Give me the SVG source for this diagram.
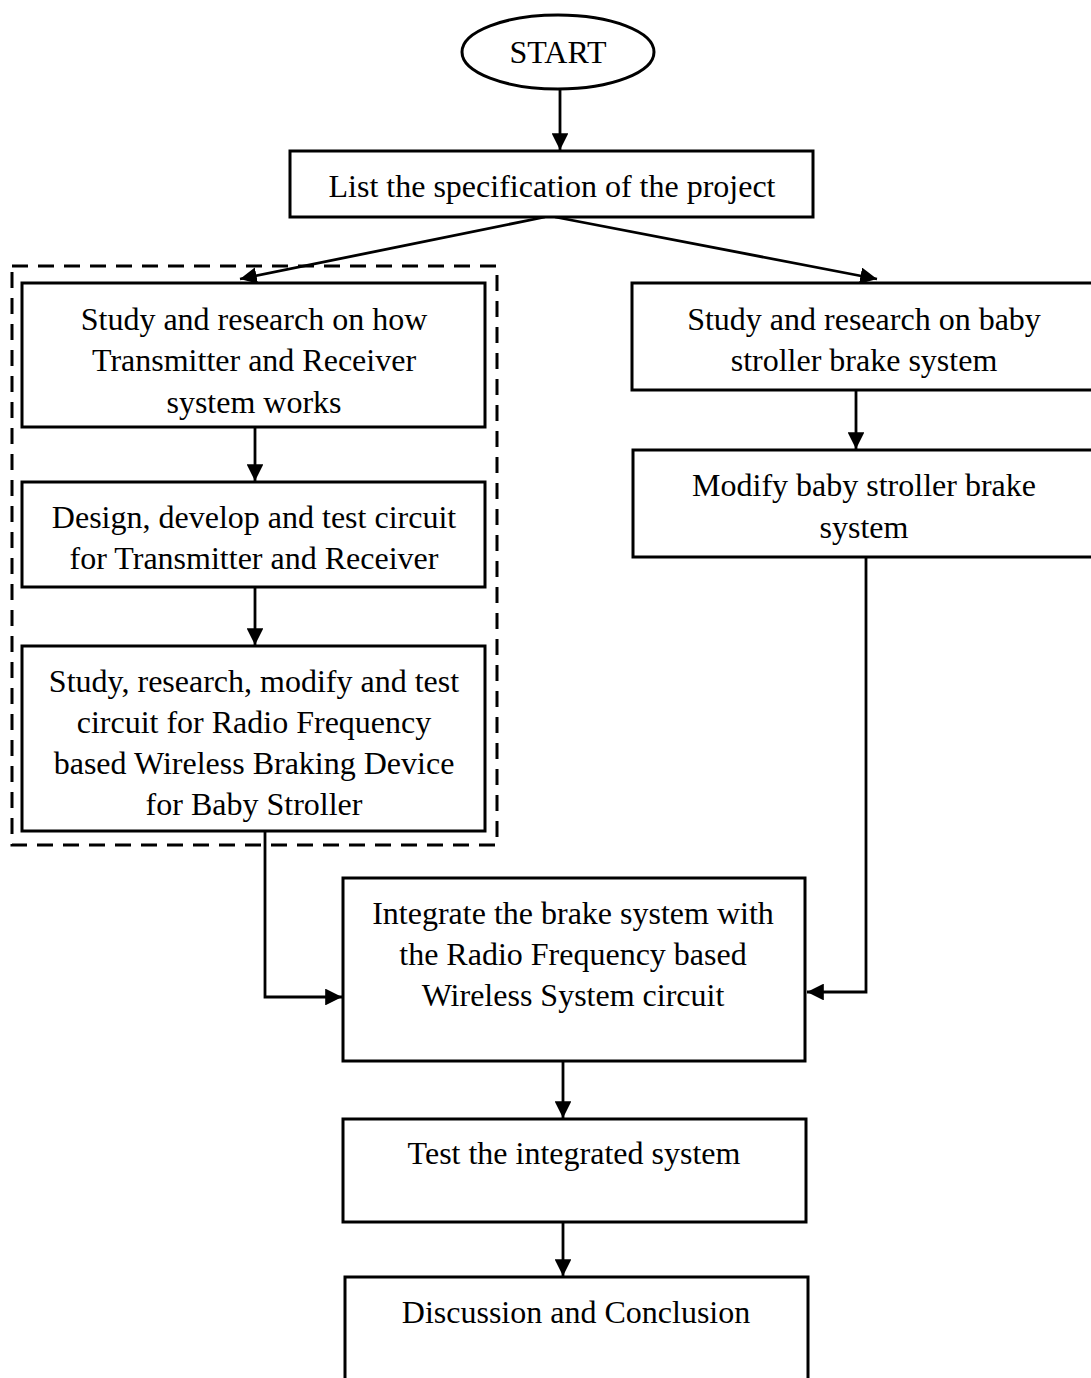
<svg xmlns="http://www.w3.org/2000/svg" width="1091" height="1378" viewBox="0 0 1091 1378">
<style>
.box{fill:#fff;stroke:#000;stroke-width:3}
.t{font-family:"Liberation Serif","Times New Roman",serif;font-size:32px;fill:#000;text-anchor:middle}
.c{fill:none;stroke:#000;stroke-width:2.8}
.dash{fill:none;stroke:#000;stroke-width:3;stroke-dasharray:16,10}
</style>
<defs>
<marker id="ah" viewBox="0 0 10 10" refX="10" refY="5" markerWidth="6" markerHeight="6" markerUnits="strokeWidth" orient="auto">
<path d="M0,0 L10,5 L0,10 z" fill="#000"/>
</marker>
</defs>
<rect width="1091" height="1378" fill="#fff"/>
<g id="group-dashed"><rect class="dash" x="12" y="266" width="485" height="579"/></g>
<g id="connectors">
<line class="c" x1="560" y1="90" x2="560" y2="150" marker-end="url(#ah)"/>
<line class="c" x1="545" y1="217" x2="240" y2="279" marker-end="url(#ah)"/>
<line class="c" x1="555" y1="217" x2="877" y2="279" marker-end="url(#ah)"/>
<line class="c" x1="255" y1="427" x2="255" y2="481" marker-end="url(#ah)"/>
<line class="c" x1="255" y1="587" x2="255" y2="645" marker-end="url(#ah)"/>
<polyline class="c" points="265,831 265,997 342,997" marker-end="url(#ah)"/>
<line class="c" x1="856" y1="390" x2="856" y2="449" marker-end="url(#ah)"/>
<polyline class="c" points="866,557 866,992 807,992" marker-end="url(#ah)"/>
<line class="c" x1="563" y1="1061" x2="563" y2="1118" marker-end="url(#ah)"/>
<line class="c" x1="563" y1="1222" x2="563" y2="1276" marker-end="url(#ah)"/>
</g>
<g id="start"><ellipse class="box" cx="558" cy="52" rx="96" ry="37"/><text class="t" x="558" y="63">START</text></g>
<g id="list"><rect class="box" x="290" y="151" width="523" height="66"/><text class="t" x="552" y="197">List the specification of the project</text></g>
<g id="study-tx"><rect class="box" x="22" y="283" width="463" height="144"/>
<text class="t" x="254" y="330">Study and research on how</text>
<text class="t" x="254" y="371">Transmitter and Receiver</text>
<text class="t" x="254" y="413">system works</text></g>
<g id="design"><rect class="box" x="22" y="482" width="463" height="105"/>
<text class="t" x="254" y="528">Design, develop and test circuit</text>
<text class="t" x="254" y="569">for Transmitter and Receiver</text></g>
<g id="study-rf"><rect class="box" x="22" y="646" width="463" height="185"/>
<text class="t" x="254" y="692">Study, research, modify and test</text>
<text class="t" x="254" y="733">circuit for Radio Frequency</text>
<text class="t" x="254" y="774">based Wireless Braking Device</text>
<text class="t" x="254" y="815">for Baby Stroller</text></g>
<g id="study-brake"><rect class="box" x="632" y="283" width="462" height="107"/>
<text class="t" x="864" y="330">Study and research on baby</text>
<text class="t" x="864" y="371">stroller brake system</text></g>
<g id="modify"><rect class="box" x="633" y="450" width="461" height="107"/>
<text class="t" x="864" y="496">Modify baby stroller brake</text>
<text class="t" x="864" y="538">system</text></g>
<g id="integrate"><rect class="box" x="343" y="878" width="462" height="183"/>
<text class="t" x="573" y="924">Integrate the brake system with</text>
<text class="t" x="573" y="965">the Radio Frequency based</text>
<text class="t" x="573" y="1006">Wireless System circuit</text></g>
<g id="test"><rect class="box" x="343" y="1119" width="463" height="103"/>
<text class="t" x="574" y="1164">Test the integrated system</text></g>
<g id="discussion"><rect class="box" x="345" y="1277" width="463" height="120"/>
<text class="t" x="576" y="1323">Discussion and Conclusion</text></g>
</svg>
